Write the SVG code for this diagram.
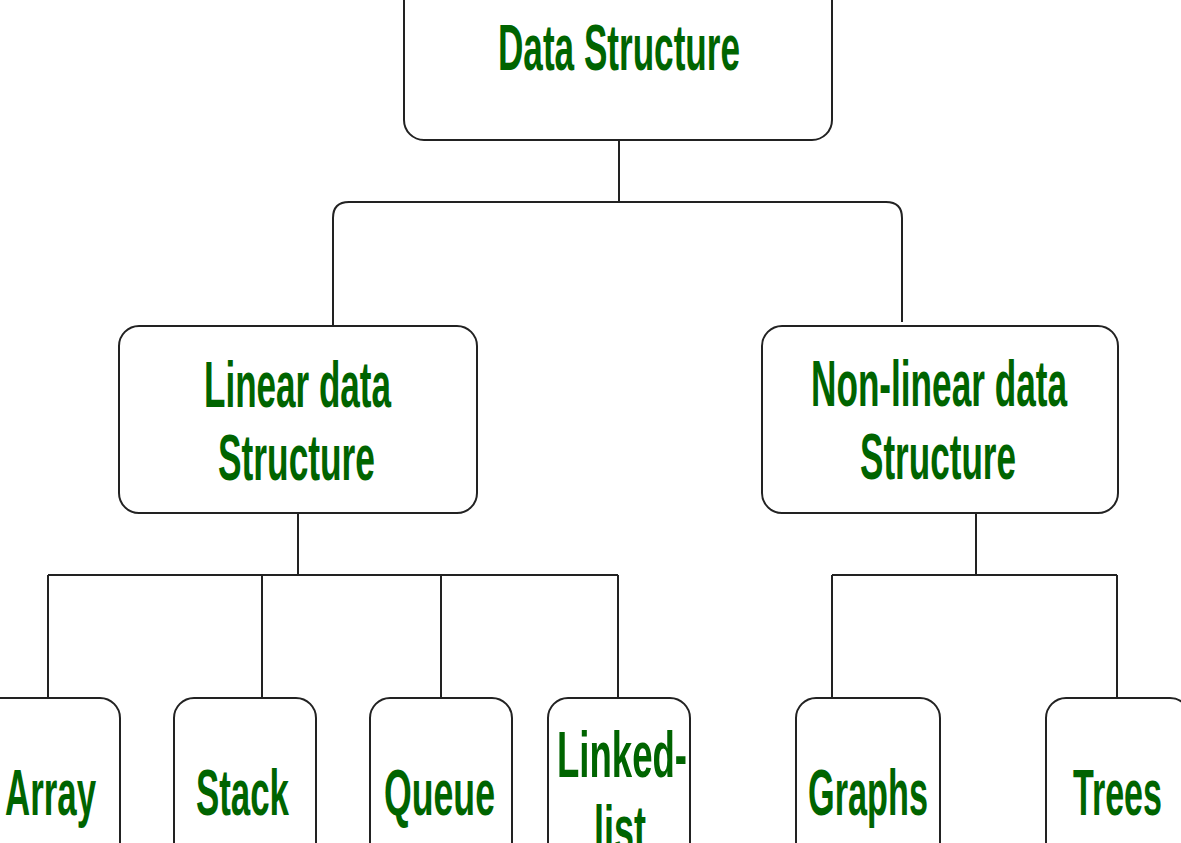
<svg xmlns="http://www.w3.org/2000/svg" width="1181" height="843" viewBox="0 0 1181 843">
<style>
.box{fill:#fff;stroke:#222;stroke-width:2}
.lbl{font-family:"Liberation Sans",Arial,sans-serif;font-weight:bold;font-size:64px;fill:#006400;text-anchor:middle}
.con{fill:none;stroke:#222;stroke-width:2}
</style>
<rect width="1181" height="843" fill="#fff"/>
<g id="connectors">
<path class="con" d="M619 140 V202"/>
<path class="con" d="M333 326 V218 Q333 202 349 202 H886 Q902 202 902 218 V322"/>
<path class="con" d="M298 513 V575 M48 575 H618 M48 575 V698 M262 575 V698 M441 575 V698 M618 575 V698"/>
<path class="con" d="M976 513 V575 M832 575 H1117 M832 575 V698 M1117 575 V698"/>
</g>
<g id="data-structure">
<rect class="box" x="404" y="-40" width="428" height="180" rx="20"/>
<text class="lbl" x="619" y="70" textLength="242" lengthAdjust="spacingAndGlyphs">Data Structure</text>
</g>
<g id="linear">
<rect class="box" x="119" y="326" width="358" height="187" rx="20"/>
<text class="lbl" x="297.5" y="407" textLength="187" lengthAdjust="spacingAndGlyphs">Linear data</text>
<text class="lbl" x="296.5" y="480" textLength="157" lengthAdjust="spacingAndGlyphs">Structure</text>
</g>
<g id="nonlinear">
<rect class="box" x="762" y="326" width="356" height="187" rx="20"/>
<text class="lbl" x="939" y="406" textLength="256" lengthAdjust="spacingAndGlyphs">Non-linear data</text>
<text class="lbl" x="938" y="479" textLength="156" lengthAdjust="spacingAndGlyphs">Structure</text>
</g>
<g id="array">
<rect class="box" x="-22" y="698" width="142" height="200" rx="20"/>
<text class="lbl" x="50.5" y="815" textLength="91" lengthAdjust="spacingAndGlyphs">Array</text>
</g>
<g id="stack">
<rect class="box" x="174" y="698" width="142" height="200" rx="20"/>
<text class="lbl" x="242.5" y="815" textLength="93" lengthAdjust="spacingAndGlyphs">Stack</text>
</g>
<g id="queue">
<rect class="box" x="370" y="698" width="142" height="200" rx="20"/>
<text class="lbl" x="439.5" y="815" textLength="111" lengthAdjust="spacingAndGlyphs">Queue</text>
</g>
<g id="linked-list">
<rect class="box" x="548" y="698" width="142" height="200" rx="20"/>
<text class="lbl" x="622" y="777" textLength="130" lengthAdjust="spacingAndGlyphs">Linked-</text>
<text class="lbl" x="620" y="851" textLength="52" lengthAdjust="spacingAndGlyphs">list</text>
</g>
<g id="graphs">
<rect class="box" x="796" y="698" width="144" height="200" rx="20"/>
<text class="lbl" x="868" y="815" textLength="120" lengthAdjust="spacingAndGlyphs">Graphs</text>
</g>
<g id="trees">
<rect class="box" x="1046" y="698" width="144" height="200" rx="20"/>
<text class="lbl" x="1117.5" y="815" textLength="89" lengthAdjust="spacingAndGlyphs">Trees</text>
</g>
</svg>
